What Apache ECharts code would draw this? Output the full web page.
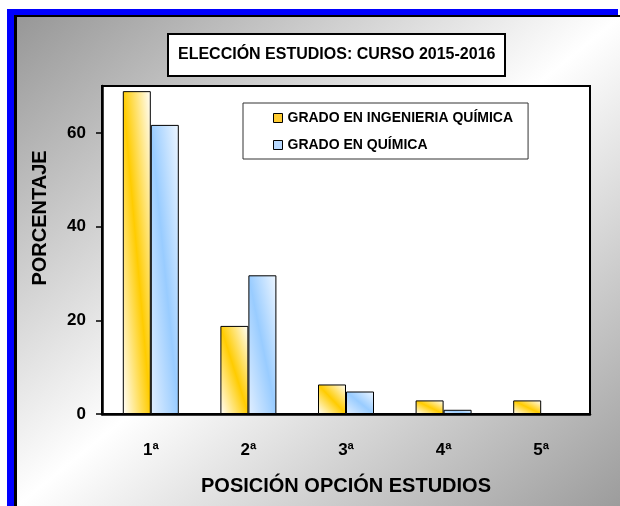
<!DOCTYPE html>
<html><head><meta charset="utf-8">
<script src="https://cdn.jsdelivr.net/npm/echarts@6/dist/echarts.min.js"></script>
<style>html,body{margin:0;padding:0;background:#fff}#c{width:620px;height:506px}</style>
</head><body><div id="c"></div>
<script>
const categories = ['1ª', '2ª', '3ª', '4ª', '5ª'];
const seriesNames = ['GRADO EN INGENIERIA QUÍMICA', 'GRADO EN QUÍMICA'];
const ingenieriaQuimica = [68.9, 18.8, 6.3, 2.9, 2.9];
const quimica = [61.7, 29.6, 4.8, 0.9, 0];
const yTickValues = [0, 20, 40, 60];
const titleText = 'ELECCIÓN ESTUDIOS: CURSO 2015-2016';
const xAxisTitle = 'POSICIÓN OPCIÓN ESTUDIOS';
const yAxisTitle = 'PORCENTAJE';

const FONT = '"Liberation Sans", Arial, Helvetica, sans-serif';
const BAR_W = 28, PLOT_H = 328, Y_MAX = 70;

function diagFill(c0, c1, c2) {
  return function (p) {
    const w = BAR_W, h = Math.max(p.value * PLOT_H / Y_MAX, 0.5);
    const L2 = w * w + h * h, a = h * h / L2, b = w * w / L2;
    return new echarts.graphic.LinearGradient(0.5 - a, 0.5 + b, 0.5 + a, 0.5 - b, [
      { offset: 0, color: c0 }, { offset: 0.5, color: c1 }, { offset: 1, color: c2 }
    ]);
  };
}

const chart = echarts.init(document.getElementById('c'), null, { renderer: 'canvas' });
chart.setOption({
  animation: false,
  graphic: [
    { type: 'rect', z: -10, shape: { x: 7, y: 9, width: 611, height: 497 }, style: { fill: '#0000ff' } },
    { type: 'rect', z: -9, shape: { x: 14, y: 15, width: 606, height: 491 }, style: { fill: '#000' } },
    { type: 'rect', z: -8, shape: { x: 17, y: 17, width: 603, height: 489 },
      style: { fill: new echarts.graphic.LinearGradient(79, -34, 558, 557, [
        { offset: 0, color: '#979797' }, { offset: 0.5, color: '#ffffff' }, { offset: 1, color: '#9c9c9c' }
      ], true) } }
  ],
  title: {
    text: titleText, left: 168, top: 34, padding: [13, 10, 13, 10],
    backgroundColor: '#fff', borderColor: '#000', borderWidth: 2,
    textStyle: { fontFamily: FONT, fontWeight: 'bold', fontSize: 16, color: '#000' }
  },
  legend: {
    orient: 'vertical', left: 243, top: 103, padding: [8, 15, 7, 30], itemGap: 13,
    itemWidth: 9, itemHeight: 9, backgroundColor: '#fff', borderColor: '#333', borderWidth: 1,
    textStyle: { fontFamily: FONT, fontWeight: 'bold', fontSize: 14, color: '#000' },
    data: [
      { name: seriesNames[0], icon: 'rect', itemStyle: { color: '#ffcc33', borderColor: '#000', borderWidth: 1 } },
      { name: seriesNames[1], icon: 'rect', itemStyle: { color: '#b8d9ff', borderColor: '#000', borderWidth: 1 } }
    ]
  },
  grid: {
    left: 102, right: 30, top: 86, bottom: 92, show: true,
    backgroundColor: '#fff', borderColor: '#000', borderWidth: 2
  },
  xAxis: {
    type: 'category', data: categories,
    name: xAxisTitle, nameLocation: 'middle', nameGap: 62,
    nameTextStyle: { fontFamily: FONT, fontWeight: 'bold', fontSize: 20, color: '#000' },
    axisLine: { lineStyle: { color: '#000', width: 2.5 } },
    axisTick: { length: 7, lineStyle: { color: '#333', width: 1 } },
    axisLabel: { margin: 28, fontFamily: FONT, fontWeight: 'bold', fontSize: 17, color: '#000' }
  },
  yAxis: {
    type: 'value', min: 0, max: Y_MAX, interval: 20,
    name: yAxisTitle, nameLocation: 'middle', nameGap: 52, nameRotate: 90,
    nameTextStyle: { fontFamily: FONT, fontWeight: 'bold', fontSize: 20, color: '#000', padding: [0, 0, 0, 64] },
    axisLine: { show: true, lineStyle: { color: '#000', width: 2.5 } },
    axisTick: { show: true, length: 6, customValues: yTickValues, lineStyle: { color: '#000', width: 1.5 } },
    axisLabel: { margin: 16, customValues: yTickValues, fontFamily: FONT, fontWeight: 'bold', fontSize: 17, color: '#000' },
    splitLine: { show: false }
  },
  series: [
    { name: seriesNames[0], type: 'bar', data: ingenieriaQuimica, barWidth: BAR_W, barGap: '0%',
      itemStyle: { color: diagFill('#ffffff', '#ffcc00', '#ffffff'), borderColor: '#000', borderWidth: 1 } },
    { name: seriesNames[1], type: 'bar', data: quimica, barWidth: BAR_W, barGap: '0%',
      itemStyle: { color: diagFill('#e2efff', '#99ccff', '#eef6ff'), borderColor: '#000', borderWidth: 1 } }
  ]
});
</script></body></html>
